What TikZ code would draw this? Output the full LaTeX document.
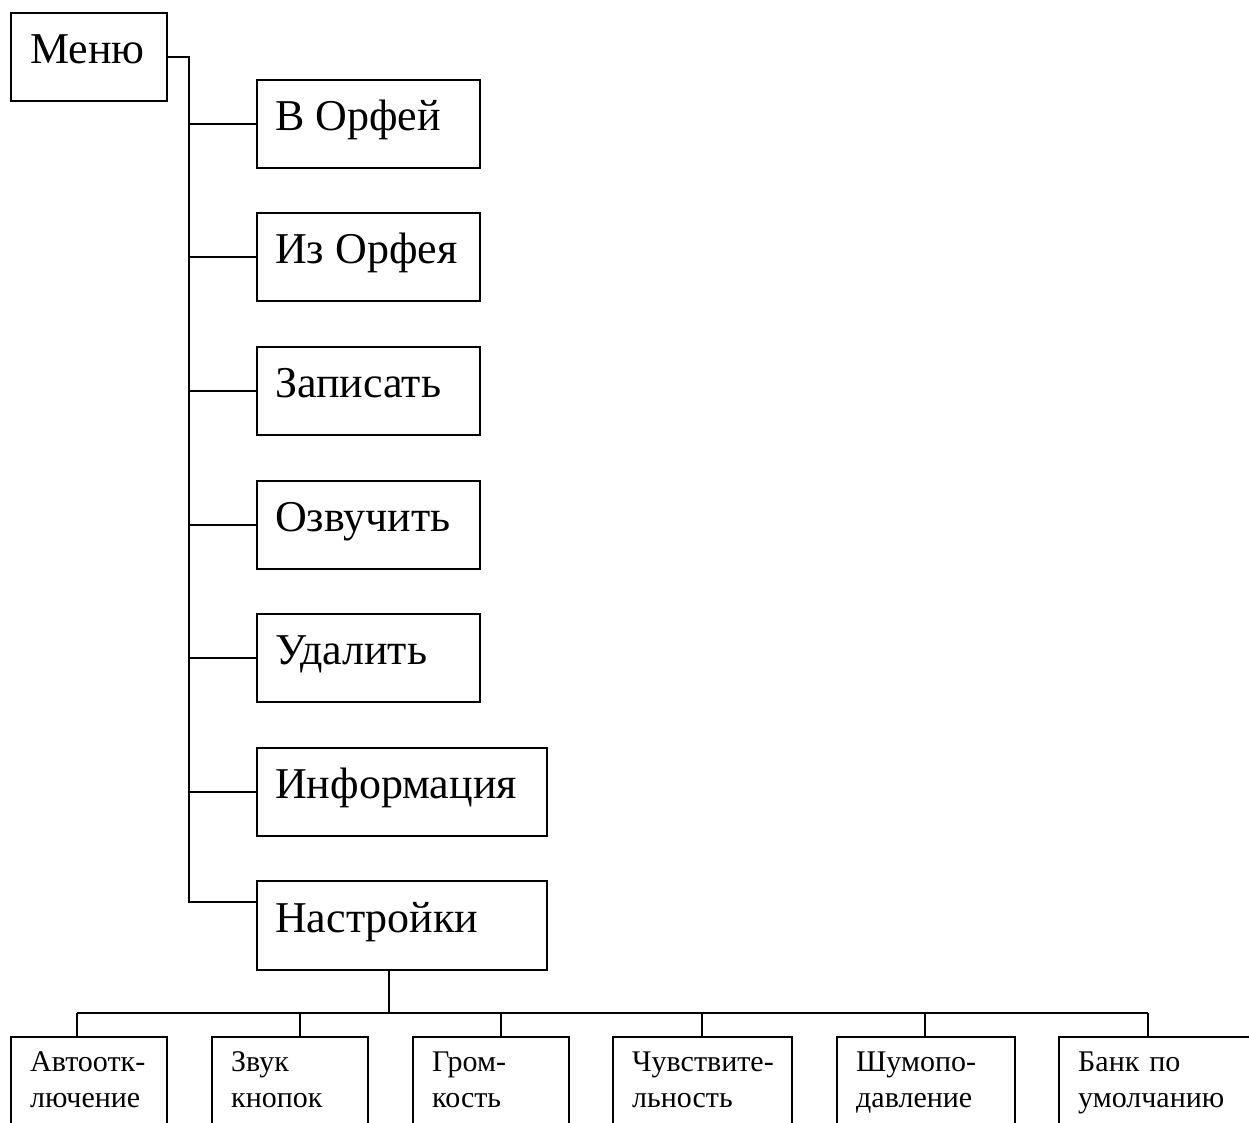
\documentclass[tikz,border=0pt]{standalone}
\usepackage{fontspec}
\setmainfont{Liberation Serif}
\begin{document}
\begin{tikzpicture}[x=1pt,y=-1pt,
  box/.style={draw,line width=1.8pt,rectangle,inner sep=0pt,anchor=north west},
  big/.style={anchor=base west,inner sep=0pt,font=\fontsize{44}{50}\selectfont},
  small/.style={anchor=base west,inner sep=0pt,text width=170pt,align=left,font=\fontsize{30}{36}\selectfont},
  conn/.style={line width=1.8pt}]
\useasboundingbox (0,0) rectangle (1249,1122);
\clip (0,0) rectangle (1249,1122);
% top level
\node[box,minimum width=156pt,minimum height=88pt] (menu) at (10,12) {};
\node[big] (tmenu) at (30,63) {Меню};
% main boxes
\node[box,minimum width=223pt,minimum height=88pt] (b1) at (256,79) {};
\node[box,minimum width=223pt,minimum height=88pt] (b2) at (256,212) {};
\node[box,minimum width=223pt,minimum height=88pt] (b3) at (256,346) {};
\node[box,minimum width=223pt,minimum height=88pt] (b4) at (256,480) {};
\node[box,minimum width=223pt,minimum height=88pt] (b5) at (256,613) {};
\node[box,minimum width=290pt,minimum height=88pt] (b6) at (256,747) {};
\node[box,minimum width=290pt,minimum height=89pt] (b7) at (256,880) {};
\node[big] (t1) at (275,130) {В Орфей};
\node[big] (t2) at (275,263) {Из Орфея};
\node[big] (t3) at (275,397) {Записать};
\node[big] (t4) at (275,531) {Озвучить};
\node[big] (t5) at (275,664) {Удалить};
\node[big] (t6) at (275,798) {Информация};
\node[big] (t7) at (275,932) {Настройки};
% trunk
\coordinate (tk) at (189,57);
\coordinate (j7) at (256,902);
\draw[conn] (menu.east) -| (tk |- j7) -- (j7);
\foreach \b in {b1,b2,b3,b4,b5,b6}{\draw[conn] (tk |- \b.west) -- (\b.west);}
% bottom boxes
\node[box,minimum width=156pt,minimum height=130pt] (k1) at (10,1036) {};
\node[box,minimum width=156pt,minimum height=130pt] (k2) at (211,1036) {};
\node[box,minimum width=156pt,minimum height=130pt] (k3) at (412,1036) {};
\node[box,minimum width=179pt,minimum height=130pt] (k4) at (612,1036) {};
\node[box,minimum width=178pt,minimum height=130pt] (k5) at (836,1036) {};
\node[box,minimum width=250pt,minimum height=130pt] (k6) at (1058,1036) {};
\node[small] (s1) at (30,1071) {Автоотк-\\лючение};
\node[small] (s2) at (231,1071) {Звук\\кнопок};
\node[small] (s3) at (432,1071) {Гром-\\кость};
\node[small] (s4) at (632,1071) {Чувствите-\\льность};
\node[small] (s5) at (856,1071) {Шумопо-\\давление};
\node[small] (s6) at (1078,1071) {Банк по\\умолчанию};
% bus
\coordinate (bus) at (389,1013);
\coordinate (p1) at (77,1036);
\coordinate (p2) at (300,1036);
\coordinate (p3) at (501,1036);
\coordinate (p4) at (702,1036);
\coordinate (p5) at (925,1036);
\coordinate (p6) at (1148,1036);
\draw[conn] (b7.south -| bus) -- (bus);
\draw[conn] (p1 |- bus) -- (p6 |- bus);
\foreach \p in {p1,p2,p3,p4,p5,p6}{\draw[conn] (\p |- bus) -- (\p);}
\end{tikzpicture}
\end{document}
